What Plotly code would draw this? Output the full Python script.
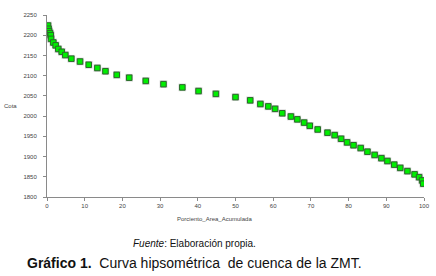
import plotly.graph_objects as go

porciento_area = [0.27, 0.4, 0.55, 0.8, 1.0, 1.06, 1.68, 2.3, 3.0, 3.9, 4.86, 6.45, 8.76,
                  11.07, 13.36, 15.5, 18.5, 21.8, 26.2, 30.9, 35.9, 40.2, 44.8, 50.0,
                  53.9, 56.6, 58.7, 60.5, 62.4, 64.7, 66.4, 68.2, 69.7, 71.8, 74.4, 76.3,
                  78.0, 79.6, 81.3, 83.2, 85.0, 86.9, 88.7, 90.3, 92.1, 93.7, 95.6, 97.5,
                  98.7, 99.5, 99.8]
cota = [2224, 2216, 2210, 2205, 2200, 2191, 2182, 2175, 2166, 2159, 2151, 2142, 2135,
        2127, 2119, 2111, 2102, 2095, 2087, 2079, 2071, 2062, 2055, 2047,
        2039, 2030, 2024, 2018, 2007, 1999, 1992, 1984, 1976, 1967, 1959, 1953,
        1944, 1935, 1928, 1921, 1912, 1904, 1896, 1889, 1880, 1872, 1864, 1856,
        1849, 1841, 1833]

x_ticks = [0, 10, 20, 30, 40, 50, 60, 70, 80, 90, 100]
y_ticks = [1800, 1850, 1900, 1950, 2000, 2050, 2100, 2150, 2200, 2250]

FONT = "Liberation Sans, Arial, sans-serif"

fig = go.Figure()
# soft shadow behind the markers
fig.add_trace(go.Scatter(
    x=porciento_area, y=cota, mode="markers",
    marker=dict(symbol="square", size=7.5, color="rgba(150,150,150,0.5)", line=dict(width=0)),
    hoverinfo="skip", showlegend=False))
fig.add_trace(go.Scatter(
    x=porciento_area, y=cota, mode="markers",
    marker=dict(symbol="square", size=5.5, color="#00ee00", line=dict(width=1, color="#2a6a2a")),
    showlegend=False))

axis_common = dict(
    showgrid=False, zeroline=False, showline=True, linecolor="#8a8a8a", linewidth=1,
    ticks="outside", ticklen=3, tickcolor="#8a8a8a", tickwidth=1, automargin=False,
    tickfont=dict(family=FONT, size=6, color="#444444"),
)

fig.update_layout(
    width=436, height=276,
    margin=dict(l=47, r=12, t=15, b=79),
    paper_bgcolor="white", plot_bgcolor="white",
    font=dict(family=FONT),
    xaxis=dict(range=[0, 100], tickvals=x_ticks, **axis_common),
    yaxis=dict(range=[1800, 2250], tickvals=y_ticks, ticklabelstandoff=5, **axis_common),
    annotations=[
        dict(text="Cota", x=-0.12, y=0.5, xref="paper", yref="paper", xanchor="left",
             yanchor="middle", showarrow=False, font=dict(family=FONT, size=6, color="#444444")),
        dict(text="Porciento_Area_Acumulada", x=0.445, y=-0.12, xref="paper", yref="paper",
             xanchor="center", yanchor="middle", showarrow=False,
             font=dict(family=FONT, size=6, color="#444444")),
        dict(text="<i>Fuente</i>: Elaboración propia.", x=194, y=243, xref="paper", yref="paper",
             xanchor="center", yanchor="middle", showarrow=False,
             font=dict(family=FONT, size=10, color="#111111")),
        dict(text="<b>Gráfico 1.</b>  Curva hipsométrica  de cuenca de la ZMT.", x=25, y=263,
             xref="paper", yref="paper", xanchor="left", yanchor="middle", showarrow=False,
             font=dict(family=FONT, size=14, color="#111111")),
    ],
)

# convert pixel positions of the two caption lines into paper coordinates
pw, ph = 436 - 47 - 12, 276 - 15 - 79
for ann in fig.layout.annotations[2:]:
    ann.x = (ann.x - 47) / pw
    ann.y = (276 - 79 - ann.y) / ph

fig.write_html("out.html", config={"displayModeBar": False},
               post_script="document.body.style.margin='0';document.body.style.overflow='hidden';")
